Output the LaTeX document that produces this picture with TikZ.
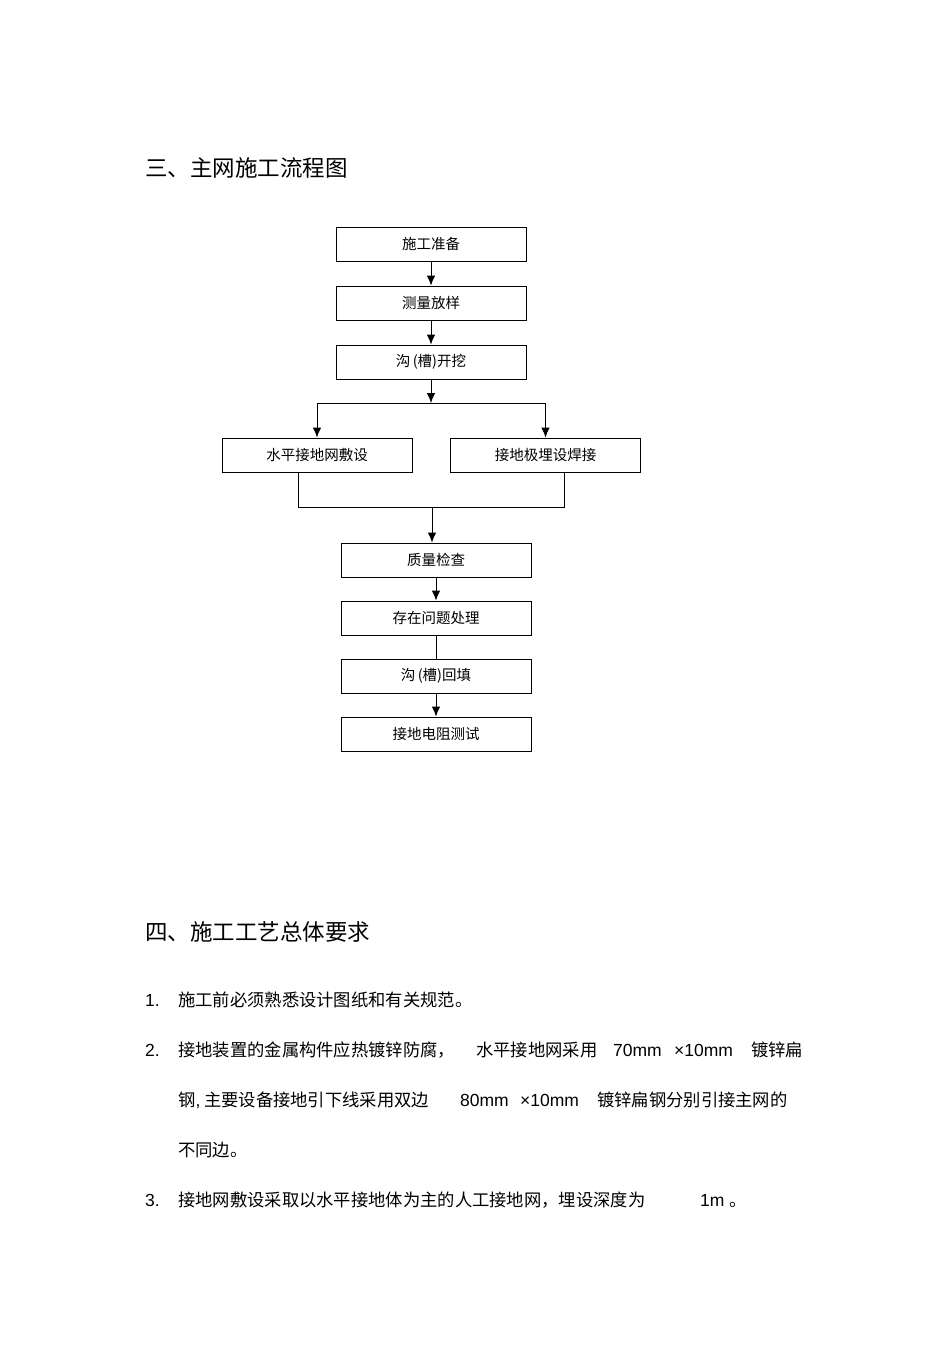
\documentclass[tikz,border=0pt]{standalone}
\usepackage{fontspec}
\setmainfont{Noto Sans CJK SC}
\newfontfamily\lat{Liberation Sans}
\usetikzlibrary{arrows.meta,calc}
\tikzset{
  box/.style={draw, line width=0.9pt, minimum width=190pt, minimum height=34pt, inner sep=0pt, font=\fontsize{14.5}{16}\selectfont},
  arr/.style={line width=1pt, -{Latex[length=10pt,width=8.5pt]}},
  ln/.style={line width=0.9pt},
  head/.style={anchor=base west, inner sep=0pt, font=\fontsize{22.5}{24}\selectfont},
  body/.style={anchor=base west, inner sep=0pt, font=\fontsize{17.3}{19}\selectfont},
  num/.style={anchor=base west, inner sep=0pt, font=\lat\fontsize{17.5}{19}\selectfont}
}
\begin{document}
\begin{tikzpicture}[x=1pt,y=-1pt]
\useasboundingbox[fill=white] (0,0) rectangle (950,1345);
% headings
\node[head] (h1) at (145,176) {三、主网施工流程图};
\node[head] (h2) at (145,940) {四、施工工艺总体要求};
% flow boxes
\node[box] (b1) at (431,244) {施工准备};
\node[box] (b2) at (431,303) {测量放样};
\node[box] (b3) at (431,362) {沟\,(槽)开挖};
\node[box] (b4) at (317,455) {水平接地网敷设};
\node[box] (b5) at (545.5,455) {接地极埋设焊接};
\node[box] (b6) at (436,560) {质量检查};
\node[box] (b7) at (436,618) {存在问题处理};
\node[box] (b8) at (436,676) {沟\,(槽)回填};
\node[box] (b9) at (436,734) {接地电阻测试};
% connectors
\draw[arr] (b1) -- (b2);
\draw[arr] (b2) -- (b3);
\coordinate (sp) at (431,403);
\coordinate (sl) at (317,403);
\coordinate (sr) at (545.5,403);
\draw[arr] (b3) -- (sp);
\draw[ln] (sl) -- (sr);
\draw[arr] (sl) -- (b4);
\draw[arr] (sr) -- (b5);
\coordinate (ml) at (298,507);
\coordinate (mr) at (564.5,507);
\coordinate (mc) at (432,507);
\draw[ln] (ml |- b4.south) -- (ml) -- (mr) -- (mr |- b5.south);
\draw[arr] (mc) -- (mc |- b6.north);
\draw[arr] (b6) -- (b7);
\draw[ln] (b7) -- (b8);
\draw[arr] (b8) -- (b9);
% list
\node[num] (n1) at (145,1006) {1.};
\node[body] (t1) at (178,1006) {施工前必须熟悉设计图纸和有关规范。};
\node[num] (n2) at (145,1056) {2.};
\node[body] (t2a) at (178,1056) {接地装置的金属构件应热镀锌防腐，};
\node[body] (t2b) at (476,1056) {水平接地网采用};
\node[num] (t2c) at (613,1056) {70mm};
\node[num] (t2d) at (674,1056) {×10mm};
\node[body] (t2e) at (751,1056) {镀锌扁};
\node[body] (t3a) at (178,1106) {钢{\lat ,} 主要设备接地引下线采用双边};
\node[num] (t3b) at (460,1106) {80mm};
\node[num] (t3c) at (520,1106) {×10mm};
\node[body] (t3d) at (597,1106) {镀锌扁钢分别引接主网的};
\node[body] (t4) at (178,1156) {不同边。};
\node[num] (n3) at (145,1206) {3.};
\node[body] (t5a) at (178,1206) {接地网敷设采取以水平接地体为主的人工接地网，埋设深度为};
\node[num] (t5b) at (700,1206) {1m};
\node[body] (t5c) at (729,1206) {。};
\end{tikzpicture}
\end{document}
